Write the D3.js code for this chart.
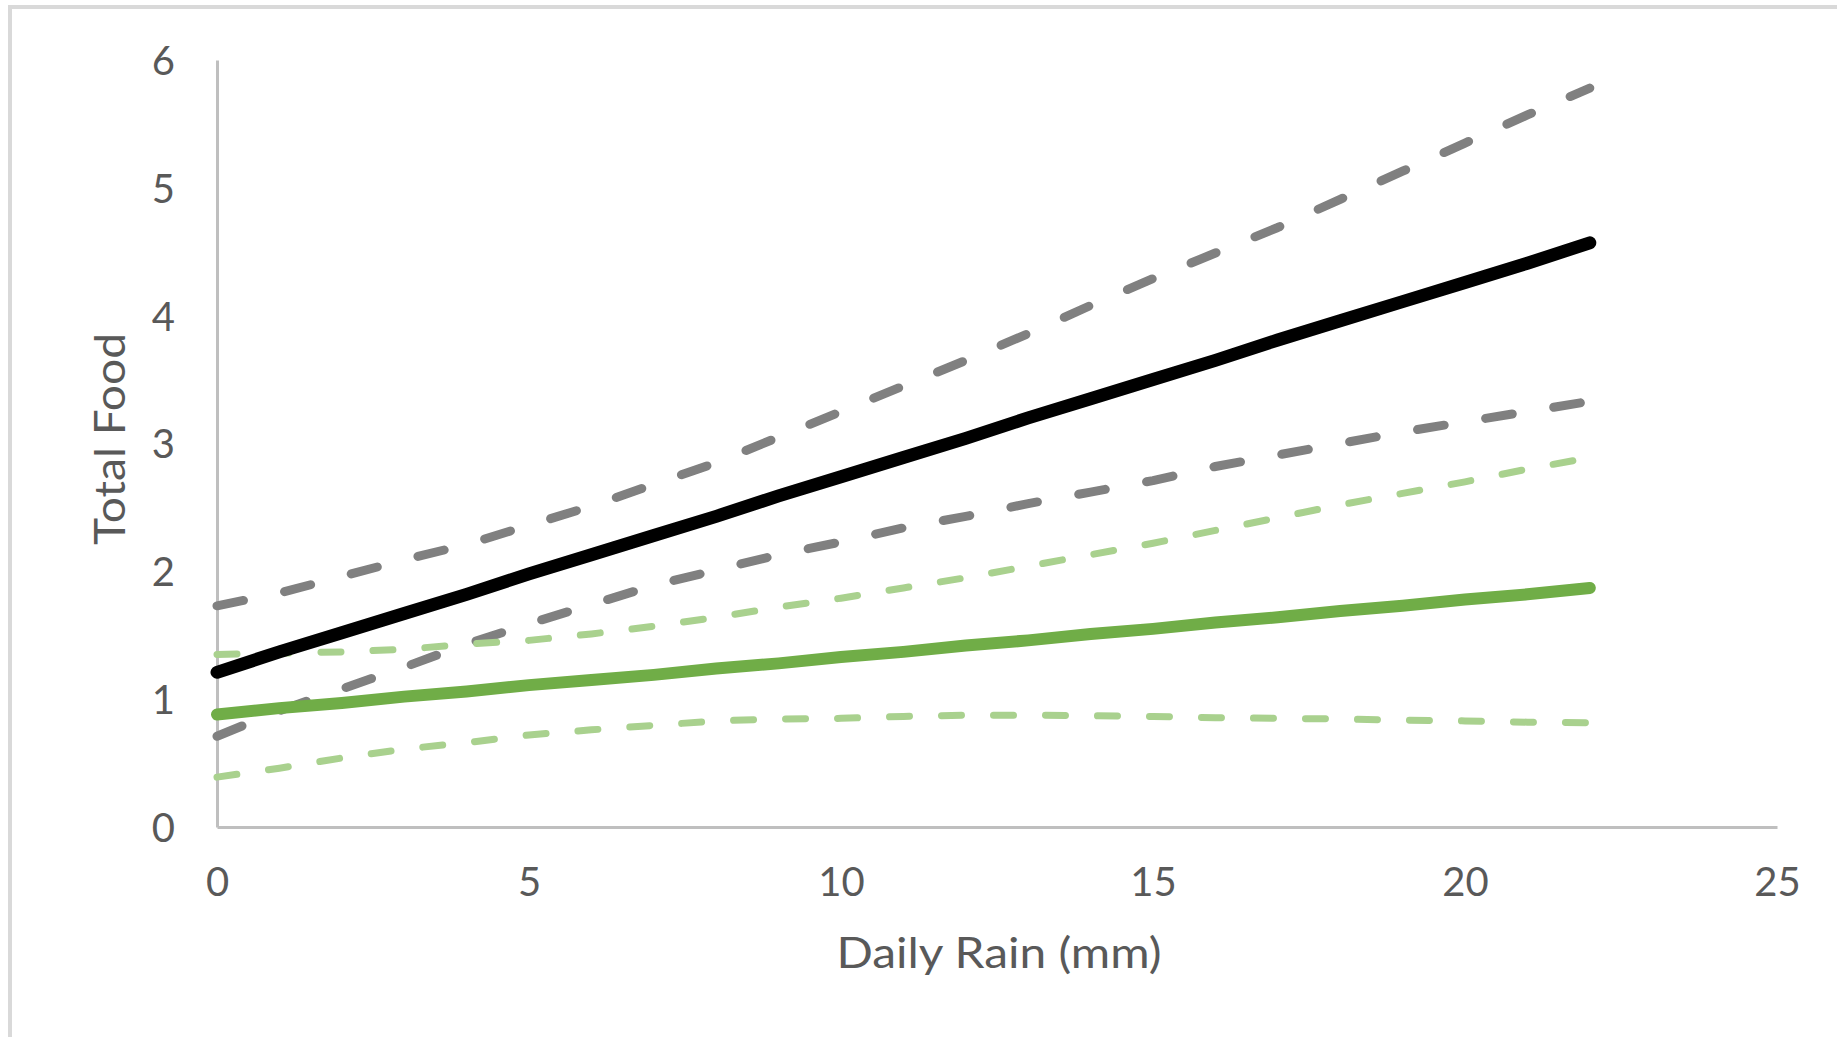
<!DOCTYPE html>
<html>
<head>
<meta charset="utf-8">
<script src="https://cdn.jsdelivr.net/npm/d3@7"></script>
<style>
  html, body { margin: 0; padding: 0; background: #fff; }
  svg { display: block; }
  text { font-family: Lato, "Open Sans", sans-serif; fill: #595959; }
</style>
</head>
<body>
<svg id="chart" width="1837" height="1037"></svg>
<script>
// ---- data ----
const rain = [0,1,2,3,4,5,6,7,8,9,10,11,12,13,14,15,16,17,18,19,20,21,22];
const foodBlack = [1.21,1.37,1.52,1.67,1.82,1.98,2.13,2.28,2.43,2.59,2.74,2.89,3.04,3.20,3.35,3.50,3.65,3.81,3.96,4.11,4.26,4.41,4.57];
const blackUpper = [1.73,1.83,1.96,2.09,2.21,2.36,2.51,2.68,2.85,3.05,3.25,3.45,3.65,3.86,4.08,4.29,4.49,4.69,4.91,5.13,5.35,5.57,5.78];
const blackLower = [0.71,0.91,1.08,1.25,1.43,1.59,1.74,1.89,2.01,2.13,2.23,2.34,2.43,2.53,2.62,2.71,2.82,2.91,3.00,3.09,3.17,3.25,3.33];
const foodGreen = [0.88,0.93,0.97,1.02,1.06,1.11,1.15,1.19,1.24,1.28,1.33,1.37,1.42,1.46,1.51,1.55,1.60,1.64,1.69,1.73,1.78,1.82,1.87];
const greenUpper = [1.35,1.36,1.37,1.39,1.43,1.46,1.51,1.57,1.64,1.72,1.79,1.87,1.95,2.04,2.13,2.22,2.32,2.42,2.52,2.61,2.70,2.80,2.89];
const greenLower = [0.39,0.46,0.54,0.61,0.66,0.72,0.76,0.795,0.83,0.845,0.85,0.865,0.875,0.875,0.87,0.865,0.855,0.85,0.845,0.835,0.83,0.82,0.815];
const xTicks = [0,5,10,15,20,25];
const yTicks = [0,1,2,3,4,5,6];
const xTitle = "Daily Rain (mm)";
const yTitle = "Total Food";

// ---- layout ----
const svg = d3.select("#chart");
const mLeft = 217, mRight = 1777, mTop = 60, mBottom = 827;
const x = d3.scaleLinear().domain([0,25]).range([mLeft,mRight]);
const y = d3.scaleLinear().domain([0,6]).range([mBottom,mTop]);

// outer frame (left & top)
svg.append("line").attr("x1",10).attr("x2",10).attr("y1",5).attr("y2",1037)
  .attr("stroke","#d9d9d9").attr("stroke-width",4);
svg.append("line").attr("x1",8).attr("x2",1837).attr("y1",7).attr("y2",7)
  .attr("stroke","#d9d9d9").attr("stroke-width",4);

// axes
const xAxis = svg.append("g").attr("transform",`translate(0,${mBottom})`)
  .call(d3.axisBottom(x).tickValues(xTicks).tickSize(0).tickPadding(33).tickFormat(d3.format("d")));
const yAxis = svg.append("g").attr("transform",`translate(${mLeft},0)`)
  .call(d3.axisLeft(y).tickValues(yTicks).tickSize(0).tickPadding(42).tickFormat(d3.format("d")));
[xAxis,yAxis].forEach(g=>{
  g.select(".domain").attr("stroke","#bfbfbf").attr("stroke-width",3);
  g.selectAll("text").style("font-family","Lato, 'Open Sans', sans-serif")
    .style("font-size","40px").attr("fill","#595959");
});
xAxis.selectAll("text").attr("dy","0.9em");
yAxis.selectAll("text").attr("dy","0.36em");

// series
const line = d3.line().x((d,i)=>x(rain[i])).y(d=>y(d));
const series = [
  {v: blackUpper, color:"#808080", w:9, dash:"27,42"},
  {v: blackLower, color:"#808080", w:9, dash:"27,42"},
  {v: greenUpper, color:"#a9d18e", w:7, dash:"20,32"},
  {v: greenLower, color:"#a9d18e", w:7, dash:"20,32"},
  {v: foodGreen, color:"#70ad47", w:12, dash:null},
  {v: foodBlack, color:"#000000", w:13, dash:null}
];
series.forEach(s=>{
  svg.append("path").attr("d", line(s.v)).attr("fill","none")
    .attr("stroke", s.color).attr("stroke-width", s.w)
    .attr("stroke-linecap","round").attr("stroke-linejoin","round")
    .attr("stroke-dasharray", s.dash);
});

// titles
svg.append("text").attr("x",999).attr("y",968).attr("text-anchor","middle")
  .attr("textLength",325).attr("lengthAdjust","spacingAndGlyphs")
  .style("font-size","43px").text(xTitle);
svg.append("text").attr("transform","translate(125,439) rotate(-90)").attr("text-anchor","middle")
  .attr("textLength",212).attr("lengthAdjust","spacingAndGlyphs")
  .style("font-size","43px").text(yTitle);
</script>
</body>
</html>
